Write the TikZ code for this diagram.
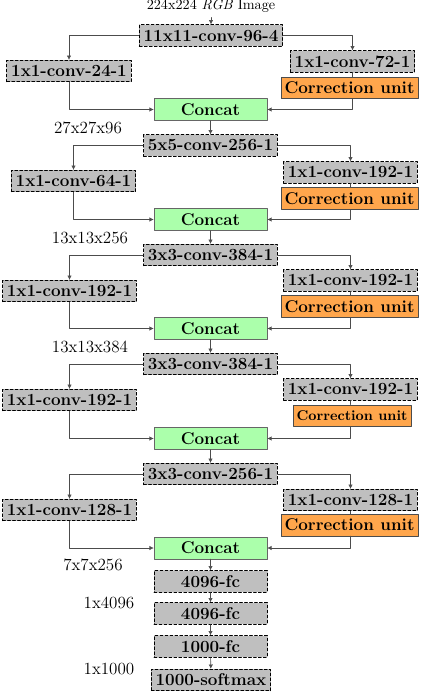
\documentclass[tikz,border=0pt]{standalone}
\usepackage{tikz}
\usetikzlibrary{arrows.meta}

\tikzset{
	layer/.style={draw, semithick, dash pattern=on 2pt off 1.5pt, fill=gray!50,
		font=\large\bfseries, inner xsep=3pt, minimum height=15pt},
	fclayer/.style={layer, minimum width=79.5pt},
	concat/.style={draw=black!60, fill=green!33, font=\large\bfseries,
		minimum width=79.5pt, minimum height=15pt},
	corr/.style={draw=black!70, fill=orange!70, font=\large\bfseries,
		inner xsep=2.5pt, minimum height=15pt},
	dimlabel/.style={font=\large},
	link/.style={draw=black!70, -{Latex[length=3pt,width=3pt]}},
	plain/.style={draw=black!70}
}

\begin{document}
\begin{tikzpicture}[x=0.704pt, y=-0.704pt, line cap=round, line join=round]
	\useasboundingbox (0,0) rectangle (424,692);
	
	% Input
	\node (img) at (211,6) {224x224 \textit{RGB} Image};
	
	% Block 1
	\node[layer] (c1) at (211,35.5) {11x11-conv-96-4};
	\node[layer] (l1) at (69,71) {1x1-conv-24-1};
	\node[layer] (r1) at (352.5,61.5) {1x1-conv-72-1};
	\node[corr] (u1) at (349.5,88) {Correction unit};
	\node[concat] (k1) at (210.5,109.5) {Concat};
	\draw[link] (img) -- (c1);
	\draw[link] (c1.west) -| (l1.north);
	\draw[link] (c1.east) -| (r1.north);
	\draw[plain] (r1.south) -- (r1.south |- u1.north);
	\draw[link] (l1.south) |- (k1.west);
	\draw[link] (r1.south |- u1.south) |- (k1.east);
	\node[dimlabel] (d1) at (88,128) {27x27x96};
	
	% Block 2
	\node[layer] (c2) at (210.5,145.5) {5x5-conv-256-1};
	\node[layer] (l2) at (73.5,181) {1x1-conv-64-1};
	\node[layer] (r2) at (350.5,172.5) {1x1-conv-192-1};
	\node[corr] (u2) at (349.5,198.5) {Correction unit};
	\node[concat] (k2) at (210.5,219.5) {Concat};
	\draw[link] (k1) -- (c2);
	\draw[link] (c2.west) -| (l2.north);
	\draw[link] (c2.east) -| (r2.north);
	\draw[plain] (r2.south) -- (r2.south |- u2.north);
	\draw[link] (l2.south) |- (k2.west);
	\draw[link] (r2.south |- u2.south) |- (k2.east);
	\node[dimlabel] (d2) at (90,238) {13x13x256};
	
	% Block 3
	\node[layer] (c3) at (210.5,255) {3x3-conv-384-1};
	\node[layer] (l3) at (69.5,291) {1x1-conv-192-1};
	\node[layer] (r3) at (350.5,280.5) {1x1-conv-192-1};
	\node[corr] (u3) at (349.5,306.5) {Correction unit};
	\node[concat] (k3) at (210.5,328.5) {Concat};
	\draw[link] (k2) -- (c3);
	\draw[link] (c3.west) -| (l3.north);
	\draw[link] (c3.east) -| (r3.north);
	\draw[plain] (r3.south) -- (r3.south |- u3.north);
	\draw[link] (l3.south) |- (k3.west);
	\draw[link] (r3.south |- u3.south) |- (k3.east);
	\node[dimlabel] (d3) at (90,347) {13x13x384};
	
	% Block 4
	\node[layer] (c4) at (210.5,364) {3x3-conv-384-1};
	\node[layer] (l4) at (69.5,400) {1x1-conv-192-1};
	\node[layer] (r4) at (350.5,389.5) {1x1-conv-192-1};
	\node[corr, font=\normalsize\bfseries] (u4) at (352,415.5) {Correction unit};
	\node[concat] (k4) at (210.5,438.5) {Concat};
	\draw[link] (k3) -- (c4);
	\draw[link] (c4.west) -| (l4.north);
	\draw[link] (c4.east) -| (r4.north);
	\draw[plain] (r4.south) -- (r4.south |- u4.north);
	\draw[link] (l4.south) |- (k4.west);
	\draw[link] (r4.south |- u4.south) |- (k4.east);
	
	% Block 5
	\node[layer] (c5) at (210.5,474) {3x3-conv-256-1};
	\node[layer] (l5) at (69.5,510) {1x1-conv-128-1};
	\node[layer] (r5) at (350.5,500) {1x1-conv-128-1};
	\node[corr] (u5) at (349.5,525) {Correction unit};
	\node[concat] (k5) at (210.5,548) {Concat};
	\draw[link] (k4) -- (c5);
	\draw[link] (c5.west) -| (l5.north);
	\draw[link] (c5.east) -| (r5.north);
	\draw[plain] (r5.south) -- (r5.south |- u5.north);
	\draw[link] (l5.south) |- (k5.west);
	\draw[link] (r5.south |- u5.south) |- (k5.east);
	\node[dimlabel] (d5) at (93,565) {7x7x256};
	
	% Fully connected part
	\node[fclayer] (f1) at (210.5,581.5) {4096-fc};
	\node[fclayer] (f2) at (210.5,613.5) {4096-fc};
	\node[fclayer] (f3) at (210.5,646.5) {1000-fc};
	\node[layer] (sm) at (211,680) {1000-softmax};
	\node[dimlabel] (d6) at (109,603) {1x4096};
	\node[dimlabel] (d7) at (109,669) {1x1000};
	\draw[link] (k5) -- (f1);
	\draw[link] (f1) -- (f2);
	\draw[link] (f2) -- (f3);
	\draw[link] (f3) -- (sm);
\end{tikzpicture}
\end{document}
